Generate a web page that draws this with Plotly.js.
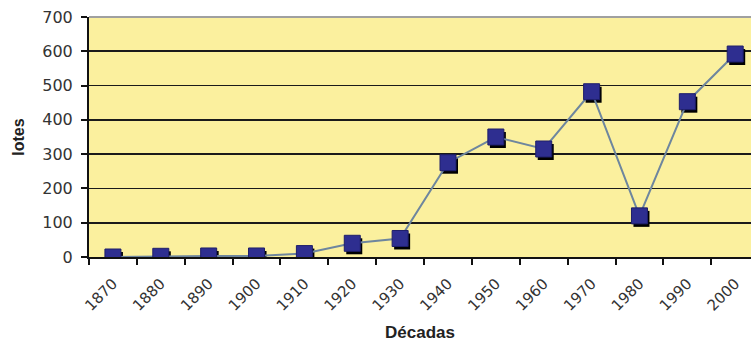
<!DOCTYPE html>
<html>
<head>
<meta charset="utf-8">
<script src="https://cdn.plot.ly/plotly-3.0.1.min.js"></script>
<style>html,body{margin:0;padding:0;background:#fff;}#chart{width:751px;height:345px;}</style>
</head>
<body>
<div id="chart"></div>
<script>
const decades = ["1870","1880","1890","1900","1910","1920","1930","1940","1950","1960","1970","1980","1990","2000"];
const lotes = [0, 2, 3, 3, 10, 40, 54, 275, 350, 315, 482, 120, 453, 592];
const yTicks = [0, 100, 200, 300, 400, 500, 600, 700];

const xRange = [-0.5, 13.33];
const yRange = [0, 700];
// shadow offset in pixels (right, down)
const plotW = 751 - 89, plotH = 345 - 17 - 88;
const dxUnits = 2 * (xRange[1] - xRange[0]) / plotW;
const dyUnits = 3 * (yRange[1] - yRange[0]) / plotH;

const font = "DejaVu Sans, Arial, sans-serif";
const boldFont = "Liberation Sans, Arial, sans-serif";

const shadow = {
  x: decades, y: lotes, type: "scatter", mode: "markers",
  xaxis: "x2", yaxis: "y2", hoverinfo: "skip", showlegend: false,
  marker: {symbol: "square", size: 16, color: "#000000"}
};
const main = {
  x: decades, y: lotes, type: "scatter", mode: "lines+markers",
  xaxis: "x3", yaxis: "y3", showlegend: false,
  line: {color: "#6E869E", width: 2},
  marker: {symbol: "square", size: 16, color: "#2E2E90", line: {color: "#1E1E6A", width: 1}}
};
const base = {
  x: decades, y: lotes, type: "scatter", mode: "none", showlegend: false, hoverinfo: "skip"
};

const hiddenAx = {showgrid: false, zeroline: false, showline: false, showticklabels: false, ticks: ""};

const layout = {
  width: 751, height: 345,
  margin: {l: 89, r: 0, t: 17, b: 88},
  paper_bgcolor: "#ffffff",
  plot_bgcolor: "#FBF09E",
  showlegend: false,
  xaxis: {
    type: "category", range: xRange, categoryorder: "array", categoryarray: decades,
    tickson: "boundaries", ticks: "outside", ticklen: 6, tickwidth: 2, tickcolor: "#111",
    ticklabelstandoff: 10,
    showgrid: false, zeroline: false, showline: true, linecolor: "#111", linewidth: 2,
    tickangle: -45, tickfont: {family: font, size: 15, color: "#333"},
    title: {text: "Décadas", font: {family: boldFont, size: 17, color: "#222", weight: "bold"}, standoff: 12}
  },
  yaxis: {
    range: yRange, tickvals: yTicks, ticktext: yTicks.map(String),
    ticks: "outside", ticklen: 6, tickwidth: 2, tickcolor: "#111",
    ticklabelstandoff: 5,
    showgrid: true, gridcolor: "#1a1a1a", gridwidth: 1.6,
    zeroline: false, showline: true, linecolor: "#111", linewidth: 2,
    tickfont: {family: font, size: 16, color: "#333"},
    title: {text: "lotes", font: {family: boldFont, size: 16, color: "#222", weight: "bold"}, standoff: 14}
  },
  xaxis2: Object.assign({type: "category", overlaying: "x", range: [xRange[0] - dxUnits, xRange[1] - dxUnits], categoryorder: "array", categoryarray: decades}, hiddenAx),
  yaxis2: Object.assign({overlaying: "y", range: [yRange[0] + dyUnits, yRange[1] + dyUnits]}, hiddenAx),
  xaxis3: Object.assign({type: "category", overlaying: "x", range: xRange, categoryorder: "array", categoryarray: decades}, hiddenAx),
  yaxis3: Object.assign({overlaying: "y", range: yRange}, hiddenAx),
  shapes: [{type: "line", xref: "paper", yref: "paper", x0: 0, x1: 1, y0: 1, y1: 1, line: {color: "#A0A0A0", width: 2}}]
};

Plotly.newPlot("chart", [base, shadow, main], layout, {staticPlot: true, displayModeBar: false});
</script>
</body>
</html>
